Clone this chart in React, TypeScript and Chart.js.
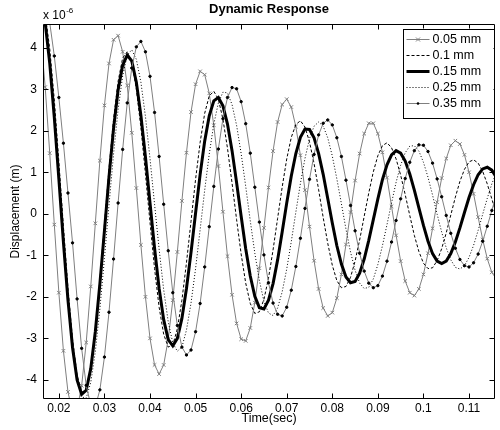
import { useEffect, useRef } from "react";
import { Chart, registerables } from "chart.js";

Chart.register(...registerables);

const FONT = "'Liberation Sans', Arial, Helvetica, sans-serif";

const times = [
  0.016, 0.017, 0.018, 0.019, 0.02, 0.021, 0.022, 0.023, 0.024, 0.025,
  0.026, 0.027, 0.028, 0.029, 0.03, 0.031, 0.032, 0.033, 0.034, 0.035,
  0.036, 0.037, 0.038, 0.039, 0.04, 0.041, 0.042, 0.043, 0.044, 0.045,
  0.046, 0.047, 0.048, 0.049, 0.05, 0.051, 0.052, 0.053, 0.054, 0.055,
  0.056, 0.057, 0.058, 0.059, 0.06, 0.061, 0.062, 0.063, 0.064, 0.065,
  0.066, 0.067, 0.068, 0.069, 0.07, 0.071, 0.072, 0.073, 0.074, 0.075,
  0.076, 0.077, 0.078, 0.079, 0.08, 0.081, 0.082, 0.083, 0.084, 0.085,
  0.086, 0.087, 0.088, 0.089, 0.09, 0.091, 0.092, 0.093, 0.094, 0.095,
  0.096, 0.097, 0.098, 0.099, 0.1, 0.101, 0.102, 0.103, 0.104, 0.105,
  0.106, 0.107, 0.108, 0.109, 0.11, 0.111, 0.112, 0.113, 0.114, 0.115,
  0.116,
];

const gap005 = [
  4.33, 3.05, 1.46, -0.26, -1.9, -3.3, -4.29, -4.78, -4.72, -4.14,
  -3.1, -1.75, -0.23, 1.28, 2.61, 3.62, 4.19, 4.29, 3.9, 3.09,
  1.95, 0.62, -0.75, -2.0, -3.0, -3.64, -3.86, -3.64, -3.02, -2.08,
  -0.92, 0.31, 1.47, 2.45, 3.12, 3.43, 3.35, 2.9, 2.13, 1.15,
  0.05, -1.02, -1.95, -2.64, -3.02, -3.06, -2.75, -2.14, -1.31, -0.34,
  0.63, 1.51, 2.21, 2.63, 2.76, 2.57, 2.1, 1.41, 0.57, -0.31,
  -1.13, -1.81, -2.27, -2.46, -2.38, -2.03, -1.46, -0.74, 0.04, 0.8,
  1.45, 1.93, 2.18, 2.18, 1.93, 1.48, 0.87, 0.18, -0.52, -1.14,
  -1.62, -1.9, -1.97, -1.81, -1.46, -0.95, -0.35, 0.28, 0.86, 1.33,
  1.65, 1.76, 1.68, 1.42, 1.0, 0.48, -0.08, -0.62, -1.08, -1.41,
  -1.57,
];

const gap010 = [
  5.16, 4.81, 3.97, 2.74, 1.25, -0.31, -1.79, -3.02, -3.88, -4.3,
  -4.23, -3.71, -2.79, -1.6, -0.26, 1.08, 2.27, 3.19, 3.75, 3.9,
  3.64, 3.01, 2.08, 0.96, -0.21, -1.32, -2.25, -2.9, -3.21, -3.16,
  -2.77, -2.08, -1.18, -0.18, 0.83, 1.72, 2.42, 2.84, 2.95, 2.76,
  2.28, 1.58, 0.74, -0.14, -0.97, -1.67, -2.16, -2.4, -2.36, -2.06,
  -1.55, -0.87, -0.11, 0.64, 1.32, 1.84, 2.15, 2.24, 2.09, 1.73,
  1.21, 0.58, -0.09, -0.71, -1.24, -1.61, -1.78, -1.75, -1.53, -1.14,
  -0.63, -0.06, 0.5, 1.01, 1.4, 1.64, 1.71, 1.59, 1.32, 0.93,
  0.46, -0.04, -0.52, -0.91, -1.19, -1.32, -1.3, -1.13, -0.84, -0.46,
  -0.03, 0.4, 0.78, 1.07, 1.25, 1.3, 1.22, 1.02, 0.72, 0.36,
  -0.01,
];

const gap015 = [
  5.14, 4.6, 3.62, 2.32, 0.84, -0.68, -2.08, -3.22, -4.0, -4.35,
  -4.25, -3.73, -2.84, -1.69, -0.41, 0.88, 2.05, 2.98, 3.58, 3.82,
  3.68, 3.17, 2.37, 1.37, 0.26, -0.83, -1.8, -2.55, -3.03, -3.18,
  -3.0, -2.52, -1.8, -0.93, 0.02, 0.95, 1.75, 2.36, 2.72, 2.8,
  2.6, 2.16, 1.52, 0.75, -0.06, -0.84, -1.5, -1.99, -2.26, -2.29,
  -2.08, -1.68, -1.11, -0.44, 0.26, 0.91, 1.45, 1.84, 2.04, 2.03,
  1.83, 1.45, 0.95, 0.37, -0.22, -0.77, -1.21, -1.52, -1.66, -1.63,
  -1.43, -1.09, -0.64, -0.14, 0.36, 0.82, 1.18, 1.42, 1.52, 1.46,
  1.27, 0.96, 0.57, 0.14, -0.28, -0.66, -0.96, -1.14, -1.2, -1.14,
  -0.96, -0.68, -0.34, 0.03, 0.39, 0.7, 0.94, 1.08, 1.12, 1.05,
  0.88,
];

const gap025 = [
  5.18, 4.62, 3.65, 2.38, 0.94, -0.55, -1.94, -3.1, -3.95, -4.41,
  -4.44, -4.06, -3.32, -2.29, -1.08, 0.21, 1.44, 2.51, 3.32, 3.82,
  3.95, 3.72, 3.17, 2.34, 1.33, 0.23, -0.85, -1.83, -2.6, -3.11,
  -3.31, -3.21, -2.8, -2.15, -1.32, -0.38, 0.57, 1.44, 2.16, 2.67,
  2.93, 2.91, 2.63, 2.13, 1.45, 0.66, -0.17, -0.95, -1.61, -2.11,
  -2.39, -2.45, -2.27, -1.88, -1.33, -0.67, 0.04, 0.73, 1.33, 1.81,
  2.11, 2.21, 2.11, 1.83, 1.39, 0.84, 0.24, -0.37, -0.92, -1.36,
  -1.67, -1.8, -1.77, -1.57, -1.22, -0.77, -0.26, 0.26, 0.76, 1.17,
  1.47, 1.63, 1.64, 1.51, 1.24, 0.88, 0.45, -0.01, -0.44, -0.82,
  -1.11, -1.29, -1.33, -1.25, -1.05, -0.76, -0.4, -0.01, 0.37, 0.72,
  0.99,
];

const gap035 = [
  5.5, 5.2, 4.6, 3.8, 2.8, 1.7, 0.5, -0.7, -2.05, -3.24,
  -4.13, -4.61, -4.64, -4.24, -3.45, -2.37, -1.09, 0.26, 1.55, 2.67,
  3.51, 4.02, 4.15, 3.9, 3.31, 2.44, 1.38, 0.23, -0.89, -1.9,
  -2.69, -3.21, -3.4, -3.28, -2.84, -2.16, -1.28, -0.31, 0.66, 1.56,
  2.29, 2.8, 3.04, 3.01, 2.7, 2.17, 1.46, 0.64, -0.2, -0.99,
  -1.66, -2.15, -2.42, -2.46, -2.25, -1.84, -1.27, -0.59, 0.13, 0.83,
  1.43, 1.9, 2.18, 2.26, 2.14, 1.83, 1.38, 0.81, 0.2, -0.41,
  -0.95, -1.38, -1.67, -1.78, -1.73, -1.5, -1.14, -0.68, -0.16, 0.36,
  0.85, 1.24, 1.52, 1.66, 1.65, 1.5, 1.22, 0.84, 0.41, -0.04,
  -0.47, -0.83, -1.1, -1.25, -1.28, -1.18, -0.97, -0.66, -0.3, 0.08,
  0.46,
];

const seriesLabels = ["0.05 mm", "0.1 mm", "0.15 mm", "0.25 mm", "0.35 mm"];
const seriesValues = [gap005, gap010, gap015, gap025, gap035];

const xTicks = [0.02, 0.03, 0.04, 0.05, 0.06, 0.07, 0.08, 0.09, 0.1, 0.11];
const xTickLabels = ["0.02", "0.03", "0.04", "0.05", "0.06", "0.07", "0.08", "0.09", "0.1", "0.11"];
const yTicks = [-4, -3, -2, -1, 0, 1, 2, 3, 4];
const yTickLabels = ["-4", "-3", "-2", "-1", "0", "1", "2", "3", "4"];

const X_MIN = 0.01652;
const X_MAX = 0.1157;
const Y_MIN = -4.46;
const Y_MAX = 4.57;

const GRAY = "#7f7f7f";

type Style = {
  color: string;
  width: number;
  dash: number[];
  marker: "none" | "cross" | "dot";
  markerColor: string;
};

const styles: Style[] = [
  { color: GRAY, width: 1, dash: [], marker: "cross", markerColor: GRAY },
  { color: "#000", width: 1, dash: [3, 2], marker: "none", markerColor: "#000" },
  { color: "#000", width: 3, dash: [], marker: "none", markerColor: "#000" },
  { color: "#000", width: 1, dash: [1, 2], marker: "none", markerColor: "#000" },
  { color: GRAY, width: 1, dash: [], marker: "dot", markerColor: "#000" },
];

function drawMarker(ctx: CanvasRenderingContext2D, kind: string, x: number, y: number, color: string) {
  if (kind === "cross") {
    ctx.save();
    ctx.strokeStyle = color;
    ctx.lineWidth = 1;
    ctx.setLineDash([]);
    ctx.beginPath();
    ctx.moveTo(x - 2, y - 2);
    ctx.lineTo(x + 2, y + 2);
    ctx.moveTo(x - 2, y + 2);
    ctx.lineTo(x + 2, y - 2);
    ctx.stroke();
    ctx.restore();
  } else if (kind === "dot") {
    ctx.save();
    ctx.fillStyle = color;
    ctx.beginPath();
    ctx.arc(x, y, 1.3, 0, Math.PI * 2);
    ctx.fill();
    ctx.restore();
  }
}

const framePlugin = {
  id: "matlabFrame",
  afterDraw(chart: any) {
    const ctx: CanvasRenderingContext2D = chart.ctx;
    const { left, right, top, bottom } = chart.chartArea;
    const xs = chart.scales.x;
    const ys = chart.scales.y;
    ctx.save();
    ctx.strokeStyle = "#000";
    ctx.lineWidth = 1;
    ctx.setLineDash([]);
    const L = Math.round(left) + 0.5;
    const R = Math.round(right) - 0.5;
    const T = Math.round(top) + 0.5;
    const B = Math.round(bottom) - 0.5;
    ctx.beginPath();
    ctx.rect(L, T, R - L, B - T);
    ctx.stroke();
    const tl = 5;
    ctx.beginPath();
    for (const v of xTicks) {
      const px = Math.round(xs.getPixelForValue(v)) + 0.5;
      ctx.moveTo(px, B);
      ctx.lineTo(px, B - tl);
      ctx.moveTo(px, T);
      ctx.lineTo(px, T + tl);
    }
    for (const v of yTicks) {
      const py = Math.round(ys.getPixelForValue(v)) + 0.5;
      ctx.moveTo(L, py);
      ctx.lineTo(L + tl, py);
      ctx.moveTo(R, py);
      ctx.lineTo(R - tl, py);
    }
    ctx.stroke();

    // exponent label
    ctx.fillStyle = "#000";
    ctx.textBaseline = "middle";
    ctx.textAlign = "left";
    ctx.font = `12px ${FONT}`;
    const base = "x 10";
    ctx.fillText(base, L - 0.5, 16);
    const w = ctx.measureText(base).width;
    ctx.font = `8px ${FONT}`;
    ctx.fillText("-6", L - 0.5 + w + 0.5, 11);

    // legend
    const boxR = R - 1;
    const boxW = 91;
    const boxL = boxR - boxW;
    const boxT = T + 4;
    const rowH = 16;
    const boxH = 89;
    ctx.fillStyle = "#fff";
    ctx.fillRect(boxL, boxT, boxW, boxH);
    ctx.strokeStyle = "#000";
    ctx.lineWidth = 1;
    ctx.strokeRect(Math.round(boxL) + 0.5, Math.round(boxT) + 0.5, boxW, boxH);
    ctx.font = `12.5px ${FONT}`;
    ctx.textBaseline = "middle";
    seriesLabels.forEach((lab, i) => {
      const st = styles[i];
      const y = Math.round(boxT + 10.5 + rowH * i) + 0.5;
      const x0 = boxL + 4;
      const x1 = boxL + 27;
      ctx.save();
      ctx.strokeStyle = st.color;
      ctx.lineWidth = st.width;
      ctx.setLineDash(st.dash);
      ctx.beginPath();
      ctx.moveTo(x0, y);
      ctx.lineTo(x1, y);
      ctx.stroke();
      ctx.restore();
      drawMarker(ctx, st.marker, (x0 + x1) / 2, y, st.markerColor);
      ctx.fillStyle = "#000";
      ctx.fillText(lab, boxL + 30, y);
    });
    ctx.restore();
  },
};

export default function App() {
  const ref = useRef<HTMLCanvasElement>(null);
  useEffect(() => {
    document.body.style.margin = "0";
    const canvas = ref.current;
    if (!canvas) return;
    Chart.defaults.font.family = FONT;
    const datasets = seriesValues.map((vals, i) => {
      const st = styles[i];
      return {
        label: seriesLabels[i],
        data: times.map((t, j) => ({ x: t, y: vals[j] })),
        borderColor: st.color,
        borderWidth: st.width,
        borderDash: st.dash,
        backgroundColor: st.color,
        pointStyle: st.marker === "cross" ? "crossRot" : "circle",
        pointRadius: st.marker === "cross" ? 2.5 : st.marker === "dot" ? 1.2 : 0,
        pointBorderColor: st.markerColor,
        pointBackgroundColor: st.markerColor,
        pointBorderWidth: 1,
        tension: 0,
        fill: false,
        order: 4 - i,
      };
    });
    const chart = new Chart(canvas, {
      type: "line",
      data: { datasets },
      options: {
        animation: false,
        responsive: false,
        devicePixelRatio: 1,
        layout: { padding: { left: 0, right: 1, top: 0, bottom: 0 } },
        plugins: {
          legend: { display: false },
          tooltip: { enabled: false },
          title: {
            display: true,
            fullSize: false,
            text: "Dynamic Response",
            color: "#000",
            font: { size: 13, weight: "bold", family: FONT },
            padding: { top: 1.5, bottom: 6.9 },
          },
        },
        scales: {
          x: {
            type: "linear",
            min: X_MIN,
            max: X_MAX,
            afterBuildTicks: (s: any) => {
              s.ticks = xTicks.map((v) => ({ value: v }));
            },
            afterFit: (s: any) => {
              s.height = 31;
            },
            grid: { display: false, drawTicks: false, tickLength: 0 },
            border: { display: false },
            ticks: {
              color: "#000",
              font: { size: 12, family: FONT },
              padding: 2,
              maxRotation: 0,
              autoSkip: false,
              callback: (v: any) => {
                const idx = xTicks.findIndex((t) => Math.abs(t - Number(v)) < 1e-9);
                return idx >= 0 ? xTickLabels[idx] : "";
              },
            },
            title: {
              display: true,
              text: "Time(sec)",
              color: "#000",
              font: { size: 12.5, family: FONT },
              padding: { top: 0, bottom: 3.5 },
            },
          },
          y: {
            type: "linear",
            min: Y_MIN,
            max: Y_MAX,
            afterBuildTicks: (s: any) => {
              s.ticks = yTicks.map((v) => ({ value: v }));
            },
            afterFit: (s: any) => {
              s.width = 43;
            },
            grid: { display: false, drawTicks: false, tickLength: 0 },
            border: { display: false },
            ticks: {
              color: "#000",
              font: { size: 12, family: FONT },
              padding: 6,
              callback: (v: any) => {
                const idx = yTicks.findIndex((t) => Math.abs(t - Number(v)) < 1e-9);
                return idx >= 0 ? yTickLabels[idx] : "";
              },
            },
            title: {
              display: true,
              text: "Displacement (m)",
              color: "#000",
              font: { size: 12, family: FONT },
              padding: { top: 8, bottom: 0 },
            },
          },
        },
      },
      plugins: [framePlugin],
    } as any);
    return () => chart.destroy();
  }, []);
  return (
    <div style={{ position: "absolute", left: 0, top: 0, width: 500, height: 430, background: "#fff" }}>
      <canvas ref={ref} width={500} height={430} />
    </div>
  );
}
